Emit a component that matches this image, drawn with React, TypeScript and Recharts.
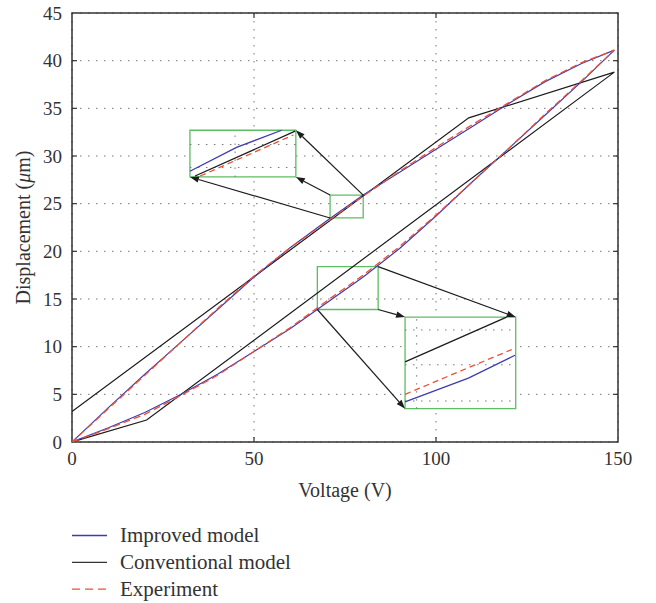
// @ts-nocheck
// Hysteresis comparison: improved model vs conventional model vs experiment

import React from 'react';
import {
  LineChart, Line, XAxis, YAxis, CartesianGrid, ReferenceArea, ReferenceLine
} from 'recharts';

const BLUE = '#3e3bb0';
const BLACK = '#1c1c1c';
const RED = '#ef4f33';
const GREEN = '#5dbd62';
const FONT = '"Liberation Serif", "Times New Roman", serif';

// voltage steps of the loop (V)
const voltage = [0, 10, 20, 30, 40, 50, 60, 70, 80, 90, 100, 110, 120, 130, 140, 149];

// displacement (um) on the rising and falling branch
const improvedRising = [0, 1.5, 3.1, 5.0, 7.1, 9.5, 11.9, 14.6, 17.3, 20.3, 23.7, 27.3, 30.8, 34.3, 37.8, 41.1];
const improvedFalling = [0, 3.6, 7.1, 10.5, 13.9, 17.3, 20.4, 23.2, 25.9, 28.3, 30.7, 33.1, 35.5, 37.8, 39.7, 41.1];
const experimentRising = [0, 1.4, 2.9, 4.9, 7.0, 9.5, 12.0, 14.8, 17.5, 20.5, 23.8, 27.3, 30.8, 34.4, 37.9, 41.1];
const experimentFalling = [0, 3.5, 7.0, 10.5, 14.0, 17.4, 20.4, 23.1, 25.8, 28.4, 30.9, 33.3, 35.6, 37.9, 39.8, 41.1];

// conventional model is piecewise linear
const conventionalV = [0, 20.5, 149, 109, 0];
const conventionalY = [0, 2.3, 38.8, 34.0, 3.2];

// zoom insets (curves re-drawn magnified inside the big boxes)
const inset1ImprovedV = [32.4, 45.2, 57.6];
const inset1ImprovedY = [28.4, 30.9, 32.7];
const inset1ConventionalV = [33.8, 61.3];
const inset1ConventionalY = [27.9, 32.6];
const inset1ExperimentV = [35.2, 60.8];
const inset1ExperimentY = [27.9, 32.2];

const inset2ImprovedV = [91.5, 108.9, 121.7];
const inset2ImprovedY = [4.2, 6.7, 9.1];
const inset2ConventionalV = [91.5, 119.4];
const inset2ConventionalY = [8.4, 13.1];
const inset2ExperimentV = [91.5, 120.8];
const inset2ExperimentY = [5.0, 9.7];

const smallBox1 = { x1: 70.9, x2: 80.0, y1: 23.5, y2: 25.9 };
const bigBox1 = { x1: 32.4, x2: 61.5, y1: 27.8, y2: 32.7 };
const smallBox2 = { x1: 67.4, x2: 84.1, y1: 13.9, y2: 18.4 };
const bigBox2 = { x1: 91.5, x2: 121.9, y1: 3.5, y2: 13.1 };

const inset1GridY = [31.2, 28.8];
const inset1GridX = [44.8];
const inset2GridY = [11.75, 8.1, 4.3];
const inset2GridX = [94.7];

const xTicks = [0, 50, 100, 150];
const yTicks = [0, 5, 10, 15, 20, 25, 30, 35, 40, 45];

const toPoints = (xs, ys) => xs.map((x, i) => ({ x, y: ys[i] }));

const loop = (rising, falling) => [
  ...toPoints(voltage, rising),
  ...toPoints(voltage, falling).reverse().slice(1),
];

const improvedData = loop(improvedRising, improvedFalling);
const experimentData = loop(experimentRising, experimentFalling);
const conventionalData = toPoints(conventionalV, conventionalY);

// arrows: from small box corner to big box corner
const arrows = [
  [{ x: smallBox1.x2, y: smallBox1.y2 }, { x: bigBox1.x2, y: bigBox1.y2 }],
  [{ x: smallBox1.x1, y: smallBox1.y2 }, { x: bigBox1.x2, y: bigBox1.y1 }],
  [{ x: smallBox1.x1, y: smallBox1.y1 }, { x: bigBox1.x1, y: bigBox1.y1 }],
  [{ x: smallBox2.x2, y: smallBox2.y2 }, { x: bigBox2.x2, y: bigBox2.y2 }],
  [{ x: smallBox2.x2, y: smallBox2.y1 }, { x: bigBox2.x1, y: bigBox2.y2 }],
  [{ x: smallBox2.x1, y: smallBox2.y1 }, { x: bigBox2.x1, y: bigBox2.y1 }],
];

const ArrowShape = (props) => {
  const { x1, y1, x2, y2 } = props;
  const a = Math.atan2(y2 - y1, x2 - x1);
  const len = 9;
  const half = 3.2;
  const bx = x2 - len * Math.cos(a);
  const by = y2 - len * Math.sin(a);
  const px = -Math.sin(a) * half;
  const py = Math.cos(a) * half;
  return (
    <g>
      <line x1={x1} y1={y1} x2={bx} y2={by} stroke={BLACK} strokeWidth={1.2} />
      <polygon points={`${x2},${y2} ${bx + px},${by + py} ${bx - px},${by - py}`} fill={BLACK} />
    </g>
  );
};

// inward tick lengths, in data units (~5px)
const X_TICK = 0.52;
const Y_TICK = 1.37;

export default function App() {
  const innerTicks = [];
  xTicks.slice(1, -1).forEach(t => {
    innerTicks.push([{ x: t, y: 0 }, { x: t, y: X_TICK }]);
    innerTicks.push([{ x: t, y: 45 }, { x: t, y: 45 - X_TICK }]);
  });
  yTicks.slice(1, -1).forEach(t => {
    innerTicks.push([{ x: 0, y: t }, { x: Y_TICK, y: t }]);
    innerTicks.push([{ x: 150, y: t }, { x: 150 - Y_TICK, y: t }]);
  });

  const insetGrid = [
    ...inset1GridY.map(y => [{ x: bigBox1.x1, y }, { x: bigBox1.x2, y }]),
    ...inset1GridX.map(x => [{ x, y: bigBox1.y1 }, { x, y: bigBox1.y2 }]),
    ...inset2GridY.map(y => [{ x: bigBox2.x1, y }, { x: bigBox2.x2, y }]),
    ...inset2GridX.map(x => [{ x, y: bigBox2.y1 }, { x, y: bigBox2.y2 }]),
  ];

  const insetLines = [
    { key: 'i1c', data: toPoints(inset1ConventionalV, inset1ConventionalY), stroke: BLACK },
    { key: 'i1b', data: toPoints(inset1ImprovedV, inset1ImprovedY), stroke: BLUE },
    { key: 'i1r', data: toPoints(inset1ExperimentV, inset1ExperimentY), stroke: RED, dash: '6 4' },
    { key: 'i2c', data: toPoints(inset2ConventionalV, inset2ConventionalY), stroke: BLACK },
    { key: 'i2b', data: toPoints(inset2ImprovedV, inset2ImprovedY), stroke: BLUE },
    { key: 'i2r', data: toPoints(inset2ExperimentV, inset2ExperimentY), stroke: RED, dash: '6 4' },
  ];

  const legend = [
    { label: 'Improved model', stroke: BLUE, dash: undefined },
    { label: 'Conventional model', stroke: '#333', dash: undefined },
    { label: 'Experiment', stroke: RED, dash: '8 5' },
  ];

  return (
    <div style={{ position: 'absolute', left: 0, top: 0, width: 656, height: 603, background: '#fff' }}>
      <LineChart width={656} height={603} margin={{ top: 13, right: 38, bottom: 131, left: 0 }}>
        <CartesianGrid stroke="#777" strokeDasharray="1.5 6.5" />
        <XAxis
          type="number" dataKey="x" domain={[0, 150]} ticks={xTicks} allowDataOverflow
          axisLine={false} tickLine={false} tickSize={0} tickMargin={10} height={30}
          tick={{ fontSize: 19, fill: '#333', fontFamily: FONT }}
        />
        <YAxis
          type="number" dataKey="y" domain={[0, 45]} ticks={yTicks} allowDataOverflow
          axisLine={false} tickLine={false} tickSize={0} tickMargin={10} width={72}
          tick={{ fontSize: 19, fill: '#333', fontFamily: FONT }}
        />

        <ReferenceArea {...bigBox1} fill="#fff" fillOpacity={1} stroke="none" />
        <ReferenceArea {...bigBox2} fill="#fff" fillOpacity={1} stroke="none" />
        {insetGrid.map((seg, i) => (
          <ReferenceLine key={'g' + i} segment={seg} stroke="#777" strokeDasharray="1.5 6.5" />
        ))}

        <Line data={conventionalData} dataKey="y" stroke={BLACK} strokeWidth={1.2} dot={false} isAnimationActive={false} />
        <Line data={improvedData} dataKey="y" stroke={BLUE} strokeWidth={1.2} dot={false} isAnimationActive={false} />
        <Line data={experimentData} dataKey="y" stroke={RED} strokeWidth={1.3} strokeDasharray="7 4" dot={false} isAnimationActive={false} />

        {insetLines.map(l => (
          <Line key={l.key} data={l.data} dataKey="y" stroke={l.stroke} strokeWidth={1.3}
            strokeDasharray={l.dash} dot={false} isAnimationActive={false} />
        ))}

        <ReferenceArea {...smallBox1} fill="none" stroke={GREEN} strokeWidth={1.3} />
        <ReferenceArea {...bigBox1} fill="none" stroke={GREEN} strokeWidth={1.3} />
        <ReferenceArea {...smallBox2} fill="none" stroke={GREEN} strokeWidth={1.3} />
        <ReferenceArea {...bigBox2} fill="none" stroke={GREEN} strokeWidth={1.3} />

        {arrows.map((seg, i) => (
          <ReferenceLine key={'a' + i} segment={seg} shape={ArrowShape} />
        ))}

        {innerTicks.map((seg, i) => (
          <ReferenceLine key={'t' + i} segment={seg} stroke="#333" strokeWidth={1.2} />
        ))}
        <ReferenceArea x1={0} x2={150} y1={0} y2={45} fill="none" stroke="#333" strokeWidth={1.5} />
      </LineChart>

      <svg width={656} height={603} style={{ position: 'absolute', left: 0, top: 0, pointerEvents: 'none' }}>
        <text x={345} y={497} textAnchor="middle" fontSize={20} fill="#333" fontFamily={FONT}>Voltage (V)</text>
        <text x={30} y={227.5} textAnchor="middle" fontSize={20} fill="#333" fontFamily={FONT}
          transform="rotate(-90 30 227.5)">
          Displacement (<tspan fontStyle="italic">μ</tspan>m)
        </text>
        {legend.map((item, i) => {
          const y = 535.5 + i * 26.8;
          return (
            <g key={item.label}>
              <line x1={72} x2={107} y1={y} y2={y} stroke={item.stroke} strokeWidth={1.3} strokeDasharray={item.dash} />
              <text x={120} y={y + 6.5} fontSize={21} fill="#333" fontFamily={FONT}>{item.label}</text>
            </g>
          );
        })}
      </svg>
    </div>
  );
}
